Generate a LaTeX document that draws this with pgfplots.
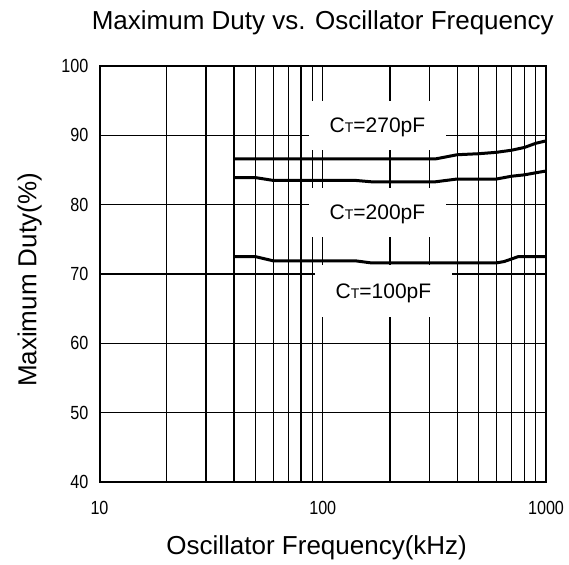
\documentclass[border=0pt]{standalone}
\usepackage{fontspec}
\setmainfont{Liberation Sans}
\newfontfamily\tickfont[FakeStretch=0.85]{Liberation Sans}
\usepackage{pgfplots}
\pgfplotsset{compat=1.18}

% curve label: C with a small T, then the value
\newcommand{\ct}[1]{C{\fontsize{14pt}{14pt}\selectfont T}=#1pF}

\tikzset{label box/.style={fill=white, inner sep=0pt, minimum width=137pt,
    text depth=0pt, font=\fontsize{21pt}{21pt}\selectfont}}

\begin{document}
\begin{tikzpicture}
  \useasboundingbox (-99.5pt,-82pt) rectangle (469.5pt,482pt);
  \begin{axis}[
      at={(0,0)}, anchor=south west,
      scale only axis,
      width=446.5pt, height=416pt,
      xmode=log,
      xmin=10, xmax=1000,
      ymin=40, ymax=100,
      xtick={10,100,1000},
      xticklabels={10,100,1000},
      minor xtick={20,30,40,50,60,70,80,90,200,300,400,500,600,700,800,900},
      ytick={40,50,60,70,80,90,100},
      yticklabels={40,50,60,70,80,90,100},
      grid=both,
      major grid style={black, line width=1.3pt},
      minor grid style={black, line width=1.3pt},
      axis line style={black, line width=2pt},
      major tick length=0pt,
      minor tick length=0pt,
      tick label style={font=\fontsize{19pt}{19pt}\tickfont},
      xticklabel style={anchor=north, inner sep=0pt, yshift=-19pt},
      yticklabel style={anchor=east, inner sep=0pt, xshift=-11pt},
      clip=false,
    ]

    % white boxes with the capacitor labels
    \node[label box, minimum height=49pt] at (rel axis cs:0.6226,0.857) {\ct{270}};
    \node[label box, minimum height=49pt] at (rel axis cs:0.6226,0.6478) {\ct{200}};
    \node[label box, minimum height=52pt] at (rel axis cs:0.636,0.459) {\ct{100}};

    % CT = 270pF
    \addplot[black, line width=3pt, line join=round] coordinates {
      (40,86.6) (100,86.6) (200,86.6) (320,86.6)
      (400,87.2) (500,87.35) (600,87.55) (700,87.85)
      (800,88.25) (900,88.85) (1000,89.2)
    };
    % CT = 200pF
    \addplot[black, line width=3pt, line join=round] coordinates {
      (40,83.9) (50,83.9) (60,83.5) (140,83.5) (165,83.3)
      (320,83.3) (400,83.7) (600,83.7) (700,84.1)
      (800,84.3) (900,84.6) (1000,84.85)
    };
    % CT = 100pF
    \addplot[black, line width=3pt, line join=round] coordinates {
      (40,72.5) (50,72.5) (60,71.9) (140,71.9) (165,71.6)
      (600,71.6) (650,71.8) (750,72.5) (1000,72.5)
    };
  \end{axis}

  \node[anchor=base, font=\fontsize{26pt}{26pt}\selectfont]
    at (223.25pt,452.7pt) {Maximum Duty vs. Oscillator Frequency};
  \node[anchor=base, font=\fontsize{26pt}{26pt}\selectfont]
    at (217.2pt,-72pt) {Oscillator Frequency(kHz)};
  \node[anchor=base, rotate=90, font=\fontsize{26pt}{26pt}\selectfont]
    at (-63pt,202pt) {Maximum Duty(\%)};
\end{tikzpicture}
\end{document}
